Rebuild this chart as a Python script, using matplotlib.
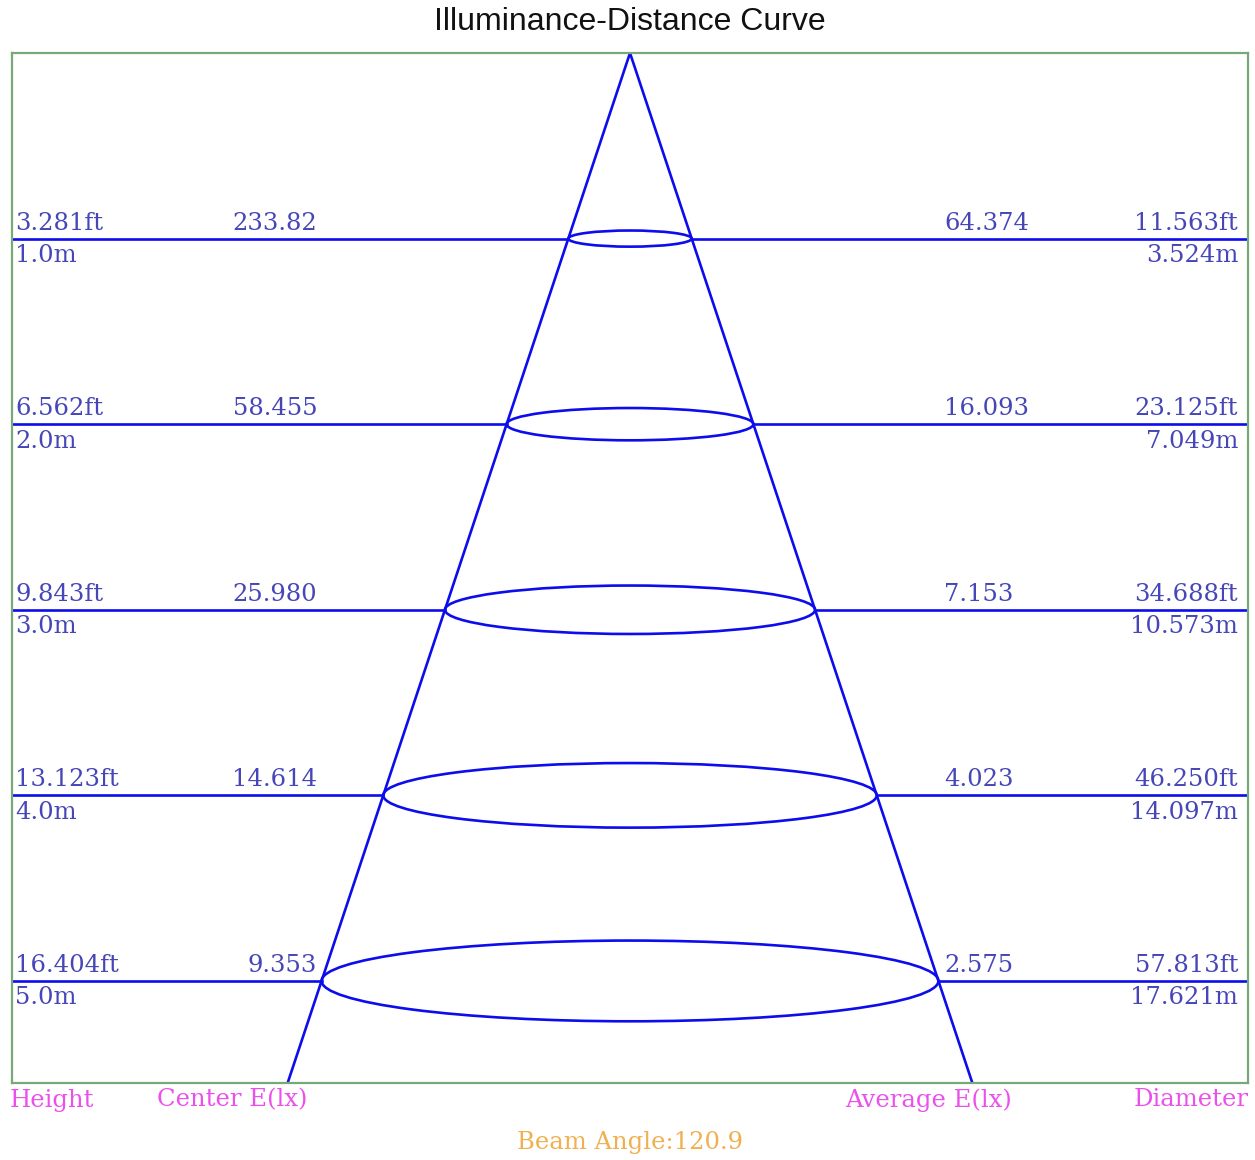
import matplotlib
matplotlib.use("Agg")
import matplotlib.pyplot as plt
from matplotlib.patches import Ellipse
import matplotlib.transforms as mtransforms

# data
heights_m = [1.0, 2.0, 3.0, 4.0, 5.0]
height_m_labels = ["1.0m", "2.0m", "3.0m", "4.0m", "5.0m"]
height_ft_labels = ["3.281ft", "6.562ft", "9.843ft", "13.123ft", "16.404ft"]
center_e = ["233.82", "58.455", "25.980", "14.614", "9.353"]
average_e = ["64.374", "16.093", "7.153", "4.023", "2.575"]
diameter_ft = ["11.563ft", "23.125ft", "34.688ft", "46.250ft", "57.813ft"]
diameter_m = ["3.524m", "7.049m", "10.573m", "14.097m", "17.621m"]
beam_angle = 120.9

# schematic geometry of the drawn cone
cone_slope = 0.3326      # half width per unit height (drawing units)
ellipse_ratio = 0.0435   # half height of ring per unit height
y_max = 5.55
x_half = 3.332

LINE = "#0c0cec"
TXT = "#4646b8"
MAG = "#ec50ec"
ORANGE = "#f0b050"
FRAME = "#78a878"
SERIF = ["DejaVu Serif"]
FS = 17.5

fig = plt.figure(figsize=(12.55, 11.6), dpi=100)
ax = fig.add_axes([12 / 1255, 77 / 1160, 1236 / 1255, 1030 / 1160])
ax.set_xlim(-x_half, x_half)
ax.set_ylim(y_max, 0)
ax.set_xticks([])
ax.set_yticks([])
for s in ax.spines.values():
    s.set_color(FRAME)
    s.set_linewidth(1.6)

# cone edges
ax.plot([0, -cone_slope * y_max], [0, y_max], color=LINE, lw=1.9, solid_capstyle="butt")
ax.plot([0, cone_slope * y_max], [0, y_max], color=LINE, lw=1.9, solid_capstyle="butt")

trans = mtransforms.blended_transform_factory(ax.transAxes, ax.transData)

for i, h in enumerate(heights_m):
    half = cone_slope * h
    ax.plot([-x_half, -half], [h, h], color=LINE, lw=1.9)
    ax.plot([half, x_half], [h, h], color=LINE, lw=1.9)
    ax.add_patch(Ellipse((0, h), 2 * half, 2 * ellipse_ratio * h, fill=False,
                         edgecolor=LINE, lw=1.9))

    ax.text(0.0025, h - 0.022, height_ft_labels[i], transform=trans, ha="left", va="bottom",
            fontsize=FS, color=TXT, family=SERIF)
    ax.text(0.0025, h + 0.03, height_m_labels[i], transform=trans, ha="left", va="top",
            fontsize=FS, color=TXT, family=SERIF)
    ax.text(0.247, h - 0.022, center_e[i], transform=trans, ha="right", va="bottom",
            fontsize=FS, color=TXT, family=SERIF)
    ax.text(0.754, h - 0.022, average_e[i], transform=trans, ha="left", va="bottom",
            fontsize=FS, color=TXT, family=SERIF)
    ax.text(0.992, h - 0.022, diameter_ft[i], transform=trans, ha="right", va="bottom",
            fontsize=FS, color=TXT, family=SERIF)
    ax.text(0.992, h + 0.03, diameter_m[i], transform=trans, ha="right", va="top",
            fontsize=FS, color=TXT, family=SERIF)

fig.text(630 / 1255, 1 - 22 / 1160, "Illuminance-Distance Curve", ha="center", va="center",
         fontsize=23, family=["Liberation Sans"], color="#111111")

fig.text(10 / 1255, 1 - 1100 / 1160, "Height", ha="left", va="center", fontsize=FS,
         color=MAG, family=SERIF)
fig.text(157 / 1255, 1 - 1100 / 1160, "Center E(lx)", ha="left", va="center", fontsize=FS,
         color=MAG, family=SERIF)
fig.text(1012 / 1255, 1 - 1100 / 1160, "Average E(lx)", ha="right", va="center", fontsize=FS,
         color=MAG, family=SERIF)
fig.text(1249 / 1255, 1 - 1100 / 1160, "Diameter", ha="right", va="center", fontsize=FS,
         color=MAG, family=SERIF)
fig.text(630 / 1255, 1 - 1143 / 1160, f"Beam Angle:{beam_angle}", ha="center", va="center",
         fontsize=FS, color=ORANGE, family=SERIF)

fig.savefig("out.png", dpi=100, facecolor="white")
